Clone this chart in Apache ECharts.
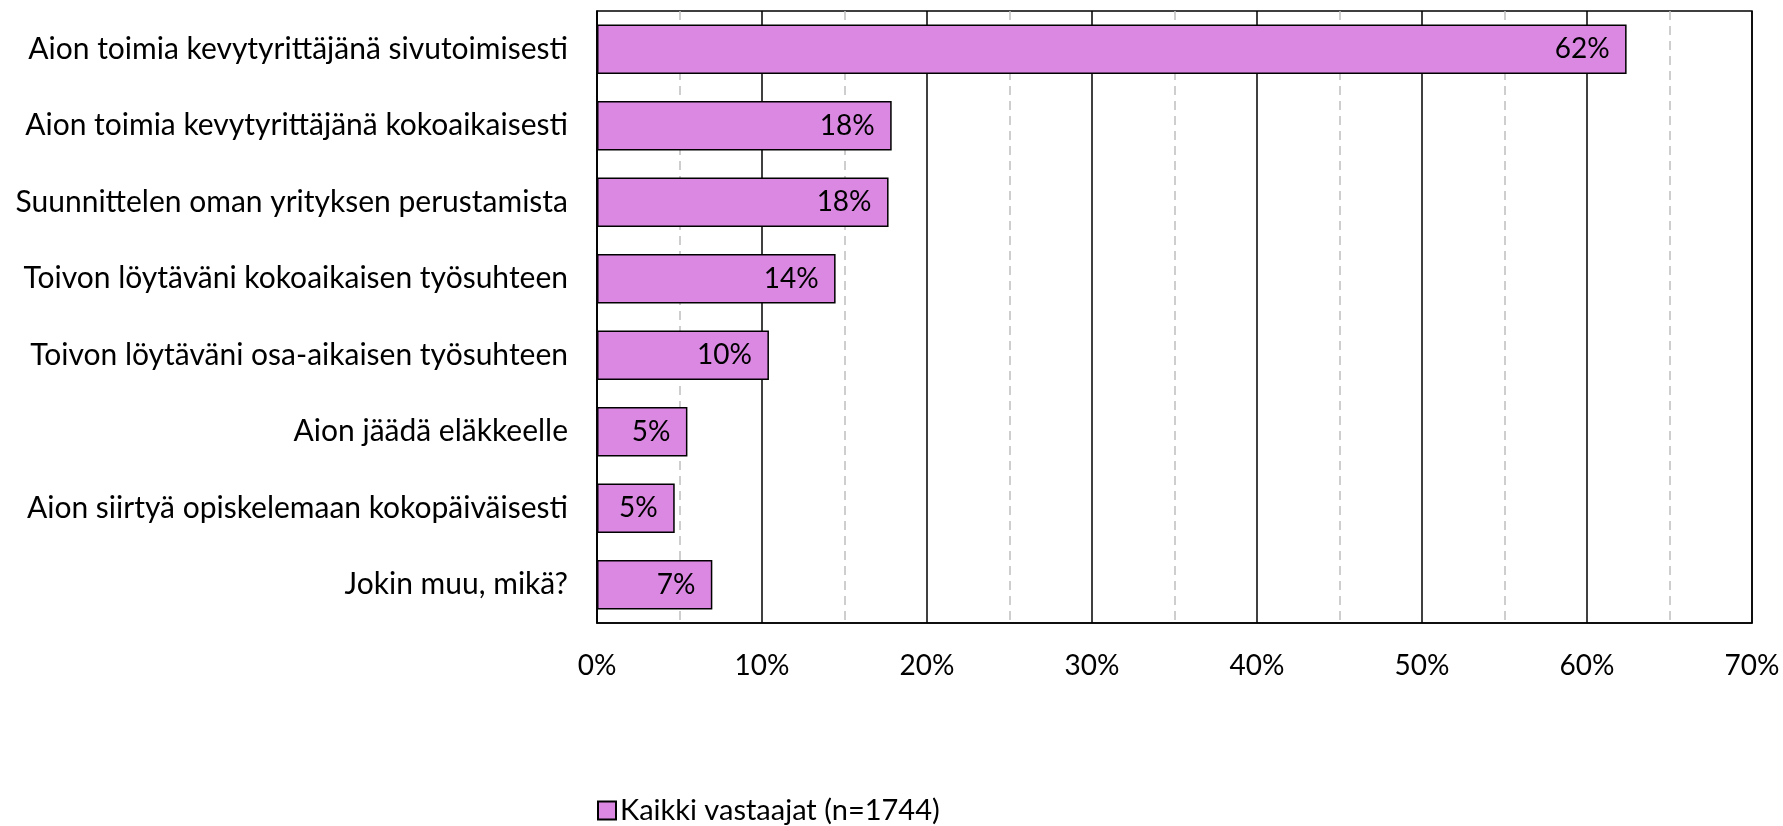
<!DOCTYPE html>
<html>
<head>
<meta charset="utf-8">
<script src="https://cdn.jsdelivr.net/npm/echarts@6/dist/echarts.min.js"></script>
<style>
  html, body { margin: 0; padding: 0; background: #fff; }
  #chart { width: 1783px; height: 826px; }
</style>
</head>
<body>
<div id="chart"></div>
<script>
// Survey answers, top to bottom
const categories = [
  'Aion toimia kevytyrittäjänä sivutoimisesti',
  'Aion toimia kevytyrittäjänä kokoaikaisesti',
  'Suunnittelen oman yrityksen perustamista',
  'Toivon löytäväni kokoaikaisen työsuhteen',
  'Toivon löytäväni osa-aikaisen työsuhteen',
  'Aion jäädä eläkkeelle',
  'Aion siirtyä opiskelemaan kokopäiväisesti',
  'Jokin muu, mikä?',
]
const seriesName = 'Kaikki vastaajat (n=1744)'
const values = [62.4, 17.86, 17.67, 14.46, 10.42, 5.48, 4.71, 6.99]

const font = 'Lato'
const barColor = '#da88e2'

const chart = echarts.init(document.getElementById('chart'))

chart.setOption({
  animation: false,
  textStyle: { fontFamily: font },
  grid: {
    left: 597,
    right: 31,
    top: 11,
    bottom: 203,
    show: true,
    borderColor: '#000',
    borderWidth: 1.5,
  },
  xAxis: {
    type: 'value',
    min: 0,
    max: 70,
    interval: 10,
    axisLine: { show: true, lineStyle: { color: '#000', width: 1.5 } },
    axisTick: { show: false },
    minorTick: { show: false, splitNumber: 2 },
    axisLabel: {
      color: '#000',
      fontSize: 28,
      fontFamily: font,
      margin: 29,
      formatter: (v) => v + '%',
    },
    splitLine: { show: true, lineStyle: { color: '#000', width: 1.5 } },
    minorSplitLine: { show: true, lineStyle: { color: '#bfbfbf', width: 1.5, type: [9, 6] } },
  },
  yAxis: {
    type: 'category',
    data: categories,
    inverse: true,
    axisLine: { show: true, lineStyle: { color: '#000', width: 1.5 } },
    axisTick: { show: false },
    axisLabel: { color: '#000', fontSize: 30, fontFamily: font, margin: 29 },
    splitLine: { show: false },
  },
  legend: {
    data: [seriesName],
    left: 592,
    top: 791,
    icon: 'rect',
    itemWidth: 18,
    itemHeight: 18,
    textStyle: { color: '#000', fontSize: 29, fontFamily: font, padding: [0, 0, 0, -1] },
  },
  series: [
    {
      name: seriesName,
      type: 'bar',
      data: values,
      barCategoryGap: '35%',
      itemStyle: { color: barColor, borderColor: '#000', borderWidth: 1.5 },
      label: {
        show: true,
        position: 'insideRight',
        distance: 17,
        color: '#000',
        fontSize: 28,
        fontFamily: font,
        formatter: (p) => Math.round(p.value) + '%',
      },
    },
  ],
})

window.addEventListener('resize', () => chart.resize())
</script>
</body>
</html>
